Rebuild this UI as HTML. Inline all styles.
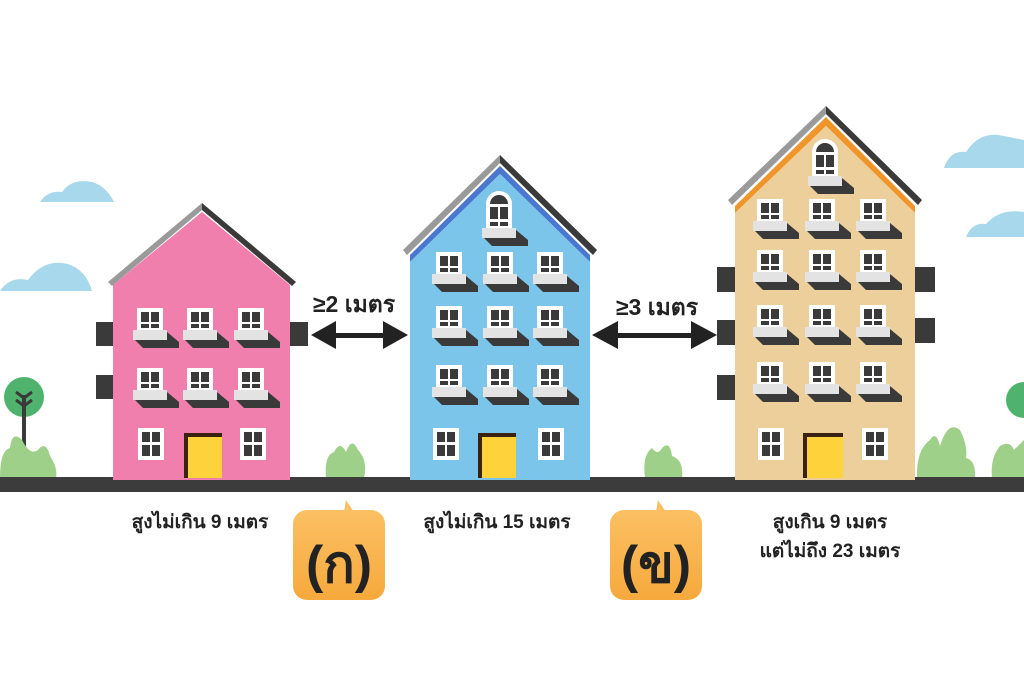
<!DOCTYPE html>
<html><head><meta charset="utf-8"><style>
html,body{margin:0;padding:0;background:#fff;width:1024px;height:683px;overflow:hidden}
text{font-family:"Liberation Sans","DejaVu Sans",sans-serif;font-weight:bold;fill:#222}
</style></head><body>
<svg width="1024" height="683" viewBox="0 0 1024 683" xmlns="http://www.w3.org/2000/svg">
<defs>
<g id="w">
<rect x="0" y="0" width="26" height="26" fill="#fff"/>
<rect x="4" y="4" width="8" height="10" fill="#3a3a3a"/><rect x="14" y="4" width="8" height="10" fill="#3a3a3a"/>
<rect x="4" y="16" width="8" height="4" fill="#3a3a3a"/><rect x="14" y="16" width="8" height="4" fill="#3a3a3a"/>
<polygon points="-2,32 30,32 30,24 42,34 42,40 6,40" fill="#3a3a3a"/>
<rect x="-4" y="22" width="34" height="10" fill="#e3e3e3"/>
</g>
<g id="g">
<rect x="0" y="0" width="26" height="32" fill="#fff"/>
<rect x="4" y="4" width="8" height="10" fill="#3a3a3a"/><rect x="14" y="4" width="8" height="10" fill="#3a3a3a"/>
<rect x="4" y="17" width="8" height="11" fill="#3a3a3a"/><rect x="14" y="17" width="8" height="11" fill="#3a3a3a"/>
</g>
<g id="a">
<path d="M0,40 V12 A13,13 0 0 1 26,12 V40 Z" fill="#fff"/>
<path d="M4,12 A9,9 0 0 1 22,12 Z" fill="#3a3a3a"/>
<rect x="4" y="15" width="8" height="12" fill="#3a3a3a"/><rect x="14" y="15" width="8" height="12" fill="#3a3a3a"/>
<rect x="4" y="30" width="8" height="4" fill="#3a3a3a"/><rect x="14" y="30" width="8" height="4" fill="#3a3a3a"/>
<polygon points="-2,46 30,46 30,38 42,48 42,54 6,54" fill="#3a3a3a"/>
<rect x="-4" y="36" width="34" height="10" fill="#e3e3e3"/>
</g>
<linearGradient id="og" x1="0" y1="0" x2="0" y2="1"><stop offset="0" stop-color="#fbc064"/><stop offset="1" stop-color="#f6a93c"/></linearGradient>
</defs>
<g fill="#a8d8ec">
<path d="M40,202 Q48,190 62,192 Q72,178 92,182 Q106,186 114,202 Z"/>
<path d="M0,291 Q10,276 28,280 Q44,258 68,264 Q86,270 92,291 Z"/>
<path d="M944,168 Q950,150 966,152 Q980,130 1004,136 L1024,140 L1024,168 Z"/>
<path d="M966,237 Q972,222 986,224 Q1000,208 1024,212 L1024,237 Z"/>
</g>
<circle cx="24" cy="397" r="20" fill="#4fb36d"/>
<rect x="22" y="395" width="4" height="60" fill="#3a3a3a"/>
<path d="M16,392 L24,398 L32,392 M16,400 L24,406 L32,400" stroke="#3a3a3a" stroke-width="3" fill="none"/>
<circle cx="1024" cy="400" r="18" fill="#4fb36d"/>
<g fill="#9fd08a">
<path d="M0,478 Q0,450 10,448 Q12,430 22,440 Q30,456 38,450 Q46,440 50,456 Q58,468 56,478 Z"/>
<path d="M326,478 Q324,455 334,452 Q340,440 346,452 Q352,436 358,450 Q368,460 364,478 Z"/>
<path d="M645,478 Q642,455 652,448 Q658,456 662,448 Q670,440 672,456 Q684,460 682,478 Z"/>
<path d="M917,478 Q916,450 930,440 Q936,430 940,446 Q948,420 960,430 Q968,446 966,458 Q976,460 975,478 Z"/>
<path d="M992,478 Q990,458 1000,446 Q1010,440 1014,450 Q1024,440 1024,440 L1024,478 Z"/>
</g>
<rect x="0" y="477" width="1024" height="15" fill="#3c3c3c"/>

<rect x="96" y="322" width="18" height="24" fill="#3a3a3a"/><rect x="96" y="375" width="18" height="24" fill="#3a3a3a"/>
<rect x="289" y="322" width="19" height="24" fill="#3a3a3a"/>
<polygon points="202,203 108,282 112,286 202,210" fill="#9a9a9a"/>
<polygon points="202,203 296,282 292,286 202,210" fill="#3a3a3a"/>
<polygon points="113,285 202,212 290,285 290,480 113,480" fill="#f07fae"/>
<use href="#w" x="137" y="308"/><use href="#w" x="187" y="308"/><use href="#w" x="238" y="308"/>
<use href="#w" x="137" y="368"/><use href="#w" x="187" y="368"/><use href="#w" x="238" y="368"/>
<use href="#g" x="138" y="428"/><use href="#g" x="240" y="428"/>
<rect x="184" y="433" width="38" height="45" fill="#3a2210"/><rect x="188" y="437" width="34" height="41" fill="#fdd23a"/>

<polygon points="500,155 403,250 407,255 500,163" fill="#9a9a9a"/>
<polygon points="500,155 597,250 593,255 500,163" fill="#3a3a3a"/>
<polygon points="410,255 500,166 590,255 590,262 500,174 410,262" fill="#4a78d0"/>
<polygon points="410,262 500,174 590,262 590,480 410,480" fill="#7cc5ea"/>
<use href="#a" x="486" y="192"/>
<use href="#w" x="436" y="252"/><use href="#w" x="487" y="252"/><use href="#w" x="537" y="252"/>
<use href="#w" x="436" y="306"/><use href="#w" x="487" y="306"/><use href="#w" x="537" y="306"/>
<use href="#w" x="436" y="365"/><use href="#w" x="487" y="365"/><use href="#w" x="537" y="365"/>
<use href="#g" x="433" y="428"/><use href="#g" x="538" y="428"/>
<rect x="478" y="433" width="38" height="45" fill="#3a2210"/><rect x="482" y="437" width="34" height="41" fill="#fdd23a"/>

<rect x="717" y="267" width="19" height="25" fill="#3a3a3a"/><rect x="717" y="320" width="19" height="25" fill="#3a3a3a"/><rect x="717" y="375" width="19" height="25" fill="#3a3a3a"/>
<rect x="914" y="267" width="21" height="25" fill="#3a3a3a"/><rect x="914" y="318" width="21" height="25" fill="#3a3a3a"/>
<polygon points="826,106 728,200 732,205 826,114" fill="#9a9a9a"/>
<polygon points="826,106 922,200 918,205 826,114" fill="#3a3a3a"/>
<polygon points="735,206 826,117 915,206 915,213 826,126 735,213" fill="#f0952a"/>
<polygon points="735,213 826,126 915,213 915,480 735,480" fill="#edcf9c"/>
<use href="#a" x="812" y="140"/>
<use href="#w" x="757" y="199"/><use href="#w" x="809" y="199"/><use href="#w" x="860" y="199"/>
<use href="#w" x="757" y="250"/><use href="#w" x="809" y="250"/><use href="#w" x="860" y="250"/>
<use href="#w" x="757" y="305"/><use href="#w" x="809" y="305"/><use href="#w" x="860" y="305"/>
<use href="#w" x="757" y="362"/><use href="#w" x="809" y="362"/><use href="#w" x="860" y="362"/>
<use href="#g" x="758" y="428"/><use href="#g" x="862" y="428"/>
<rect x="803" y="433" width="40" height="45" fill="#3a2210"/><rect x="807" y="437" width="36" height="41" fill="#fdd23a"/>

<g fill="#222">
<rect x="330" y="333" width="60" height="5"/>
<polygon points="311,335 336,321 336,349"/><polygon points="408,335 383,321 383,349"/>
<rect x="612" y="333" width="86" height="5"/>
<polygon points="592,335 618,321 618,349"/><polygon points="717,335 691,321 691,349"/>
</g>
<text x="354" y="312" font-size="23" text-anchor="middle">≥2 เมตร</text>
<text x="657" y="315" font-size="23" text-anchor="middle">≥3 เมตร</text>

<text x="200" y="528" font-size="19" text-anchor="middle">สูงไม่เกิน 9 เมตร</text>
<text x="497" y="528" font-size="19" text-anchor="middle">สูงไม่เกิน 15 เมตร</text>
<text x="830" y="528" font-size="19" text-anchor="middle">สูงเกิน 9 เมตร</text>
<text x="830" y="557" font-size="19" text-anchor="middle">แต่ไม่ถึง 23 เมตร</text>

<g>
<polygon points="344,512 346,500 354,512" fill="#fbc064"/>
<rect x="293" y="510" width="92" height="90" rx="14" fill="url(#og)"/>
<text x="339" y="582" font-size="52" text-anchor="middle">(ก)</text>
<polygon points="656,512 658,500 666,512" fill="#fbc064"/>
<rect x="610" y="510" width="92" height="90" rx="14" fill="url(#og)"/>
<text x="656" y="582" font-size="52" text-anchor="middle">(ข)</text>
</g>
</svg>
</body></html>
